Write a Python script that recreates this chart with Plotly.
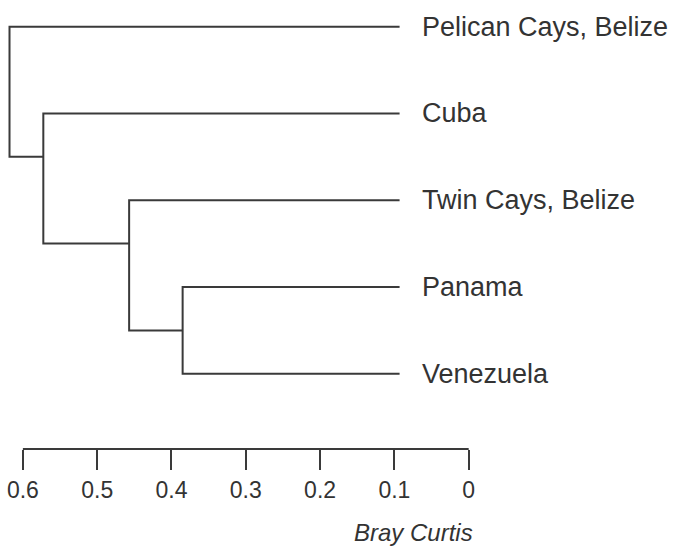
import plotly.graph_objects as go

# ---- data ----
leaf_labels = ["Pelican Cays, Belize", "Cuba", "Twin Cays, Belize", "Panama", "Venezuela"]
# merges: (top child, bottom child, Bray-Curtis height); ids >= 5 are clusters in creation order
merge_a = [3, 2, 1, 0]
merge_b = [4, 5, 6, 7]
merge_h = [0.385, 0.457, 0.5725, 0.618]
tick_vals = [0.6, 0.5, 0.4, 0.3, 0.2, 0.1, 0.0]
tick_text = ["0.6", "0.5", "0.4", "0.3", "0.2", "0.1", "0"]
axis_title = "Bray Curtis"

# ---- style / layout constants ----
LEAF_X = 0.093
LINE_COLOR = "#3a3a3a"
TEXT_COLOR = "#333333"
FONT = "Liberation Sans, Arial, sans-serif"

n = len(leaf_labels)
node_x = {i: LEAF_X for i in range(n)}
node_leaves = {i: [i] for i in range(n)}

xs, ys = [], []
for k, (a, b, h) in enumerate(zip(merge_a, merge_b, merge_h)):
    la, lb = node_leaves[a], node_leaves[b]
    ya = sum(la[:2]) / len(la[:2]) if len(la) > 1 else la[0]
    yb = sum(lb[:2]) / len(lb[:2]) if len(lb) > 1 else lb[0]
    xs += [node_x[a], h, h, node_x[b], None]
    ys += [ya, ya, yb, yb, None]
    nid = n + k
    node_x[nid] = h
    node_leaves[nid] = la + lb

fig = go.Figure()
fig.add_trace(go.Scatter(x=xs, y=ys, mode="lines",
                         line=dict(color=LINE_COLOR, width=2),
                         hoverinfo="skip", showlegend=False))

for i, lab in enumerate(leaf_labels):
    fig.add_annotation(x=0.0656, y=i, xref="x", yref="y", text=lab,
                       showarrow=False, xanchor="left", yanchor="middle",
                       font=dict(family=FONT, size=27, color=TEXT_COLOR))

fig.add_annotation(x=474.5 / 673, y=-0.187, xref="paper", yref="paper",
                   text="<i>" + axis_title + "</i>", showarrow=False,
                   xanchor="right", yanchor="middle",
                   font=dict(family=FONT, size=24, color=TEXT_COLOR))

fig.add_shape(type="line", xref="x", yref="paper",
              x0=max(tick_vals), x1=min(tick_vals), y0=0, y1=0,
              line=dict(color=LINE_COLOR, width=2))

fig.update_layout(
    width=673, height=546,
    margin=dict(l=0, r=0, t=0, b=97),
    paper_bgcolor="white", plot_bgcolor="white",
    xaxis=dict(range=[0.6308, -0.2750], tickvals=tick_vals, ticktext=tick_text,
               ticks="outside", ticklen=20, tickwidth=2, tickcolor=LINE_COLOR,
               showgrid=False, zeroline=False, showline=False,
               tickfont=dict(family=FONT, size=23, color=TEXT_COLOR)),
    yaxis=dict(range=[4.867, -0.3075], visible=False, showgrid=False, zeroline=False),
)

fig.write_html("out.html", config={"displayModeBar": False},
               post_script="document.body.style.margin='0';document.body.style.overflow='hidden';")
